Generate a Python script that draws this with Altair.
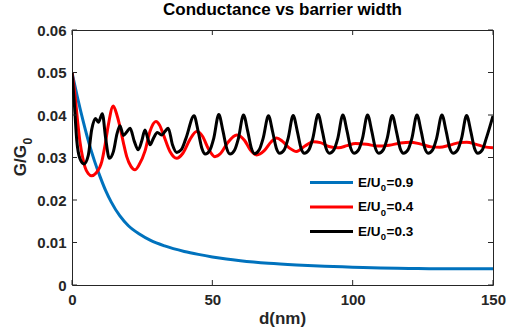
import altair as alt
import pandas as pd

# Conductance G/G0 versus barrier width d for three incident energies
d_09 = [0, 2, 4, 6, 8, 10, 12, 14, 17, 20, 24, 28, 33, 40, 45, 50, 55, 60,
        70, 80, 90, 100, 110, 120, 130, 140, 150]
g_09 = [0.0500, 0.0440, 0.0385, 0.0335, 0.0292, 0.0255, 0.0222, 0.0195, 0.0163,
        0.0140, 0.0120, 0.0105, 0.0092, 0.0079, 0.0072, 0.0066, 0.0061, 0.0057,
        0.0051, 0.0047, 0.0044, 0.0042, 0.0040, 0.0039, 0.0038, 0.0038, 0.0038]

d_04 = [0, 1.0, 2.0, 2.9, 3.8, 4.6, 5.8, 7.0, 8.5, 10.6, 11.8, 12.9, 14.7, 16.0,
        17.1, 18.3, 19.5, 21.0, 22.4, 24.0, 26.0, 27.8, 29.9, 31.3, 32.5, 34.9,
        37.3, 39.5, 42.0, 44.4, 46.5, 48.5, 50.9, 53.0, 55.5, 58.7, 61.5, 63.5,
        65.8, 68.5, 71.0, 72.9, 75.0, 77.5, 80.0, 83.0, 86.0, 88.5, 91.5, 95.0,
        98.0, 101.0, 105.0, 109.0, 113.0, 117.0, 120.5, 124.0, 128.0, 131.0,
        134.5, 138.0, 140.6, 144.0, 147.0, 150.0]
g_04 = [0.0500, 0.0450, 0.0385, 0.0334, 0.0300, 0.0278, 0.0262, 0.0257, 0.0263,
        0.0290, 0.0330, 0.0375, 0.0421, 0.0400, 0.0372, 0.0335, 0.0302, 0.0279,
        0.0271, 0.0284, 0.0315, 0.0362, 0.0385, 0.0375, 0.0355, 0.0314, 0.0298,
        0.0310, 0.0342, 0.0361, 0.0350, 0.0322, 0.0302, 0.0310, 0.0335, 0.0353,
        0.0340, 0.0318, 0.0306, 0.0316, 0.0337, 0.0346, 0.0338, 0.0322, 0.0314,
        0.0327, 0.0337, 0.0335, 0.0326, 0.0323, 0.0328, 0.0333, 0.0331, 0.0327,
        0.0329, 0.0334, 0.0336, 0.0332, 0.0325, 0.0324, 0.0329, 0.0335, 0.0336,
        0.0331, 0.0325, 0.0323]

d_03 = [0, 0.8, 1.7, 2.8, 4.3, 5.8, 7.0, 8.4, 9.4, 10.8, 12.0, 13.3, 14.8, 16.0,
        17.1, 18.3, 19.5, 20.7, 22.2, 23.6, 24.9, 26.0, 27.0, 27.8, 29.0, 30.4,
        31.9, 33.2, 34.3, 35.8, 37.3, 38.9, 40.6,
        43.5, 45.0, 46.3, 47.5, 49.1, 50.5,
        52.3, 53.8, 55.1, 56.3, 57.9, 59.3,
        61.1, 62.6, 63.9, 65.1, 66.7, 68.1,
        70.0, 71.5, 72.8, 74.0, 75.6, 77.0,
        78.8, 80.3, 81.6, 82.8, 84.4, 85.8,
        87.7, 89.2, 90.5, 91.7, 93.3, 94.7,
        96.5, 98.0, 99.3, 100.5, 102.1, 103.5,
        105.3, 106.8, 108.1, 109.3, 110.9, 112.3,
        114.1, 115.6, 116.9, 118.1, 119.7, 121.1,
        122.9, 124.4, 125.7, 126.9, 128.5, 129.9,
        131.8, 133.3, 134.6, 135.8, 137.4, 138.8,
        140.6, 142.1, 143.4, 144.6, 146.2, 147.6,
        150.0]
g_03 = [0.0500, 0.0430, 0.0340, 0.0298, 0.0285, 0.0305, 0.0365, 0.0392, 0.0383,
        0.0403, 0.0345, 0.0298, 0.0315, 0.0355, 0.0375, 0.0352, 0.0360, 0.0369,
        0.0338, 0.0318, 0.0340, 0.0365, 0.0345, 0.0330, 0.0345, 0.0359, 0.0353,
        0.0362, 0.0369, 0.0330, 0.0312, 0.0318, 0.0345,
        0.0398, 0.0360, 0.0321, 0.0308, 0.0317, 0.0345,
        0.0401, 0.0362, 0.0322, 0.0308, 0.0317, 0.0345,
        0.0400, 0.0362, 0.0322, 0.0309, 0.0318, 0.0345,
        0.0398, 0.0360, 0.0322, 0.0310, 0.0318, 0.0345,
        0.0399, 0.0361, 0.0322, 0.0310, 0.0318, 0.0345,
        0.0401, 0.0362, 0.0322, 0.0310, 0.0318, 0.0345,
        0.0400, 0.0362, 0.0322, 0.0310, 0.0318, 0.0345,
        0.0400, 0.0362, 0.0322, 0.0310, 0.0318, 0.0345,
        0.0399, 0.0361, 0.0322, 0.0310, 0.0318, 0.0345,
        0.0400, 0.0362, 0.0322, 0.0310, 0.0318, 0.0345,
        0.0400, 0.0362, 0.0322, 0.0310, 0.0318, 0.0345,
        0.0399, 0.0361, 0.0322, 0.0310, 0.0318, 0.0345,
        0.0398]

energies = ["0.9", "0.4", "0.3"]
colors = ["#0072BD", "#FF0000", "#000000"]
x_ticks = [0, 50, 100, 150]
y_ticks = [0, 0.01, 0.02, 0.03, 0.04, 0.05, 0.06]

title_text = "Conductance vs barrier width"
x_title = "d(nm)"
y_title_main = "G/G"
y_title_sub = "0"

W, H = 421, 255
FONT = "Liberation Sans"
INK = "#262626"

xs = alt.Scale(domain=[0, 150], nice=False, zero=False)
ys = alt.Scale(domain=[0, 0.06], nice=False)
x_axis = alt.Axis(
    values=x_ticks, ticks=False, domain=False, grid=False, title=None,
    labelFont=FONT, labelFontSize=15, labelFontWeight="bold",
    labelColor=INK, labelPadding=7, labelFlush=False)
y_axis = alt.Axis(
    values=y_ticks, ticks=False, domain=False, grid=False, title=None,
    labelFont=FONT, labelFontSize=15, labelFontWeight="bold",
    labelColor=INK, labelPadding=6, labelFlush=False,
    labelExpr="datum.value == 0 ? '0' : format(datum.value, '.2f')")

frames = []
for e, dd, gg in [("0.9", d_09, g_09), ("0.4", d_04, g_04), ("0.3", d_03, g_03)]:
    frames.append(pd.DataFrame({"d": dd, "G": gg, "E": e, "order": range(len(dd))}))
curves = pd.concat(frames, ignore_index=True)

layers = []
for e, c in zip(energies, colors):
    layers.append(
        alt.Chart(curves[curves["E"] == e])
        .mark_line(color=c, strokeWidth=3, interpolate="monotone", clip=True,
                   strokeJoin="round")
        .encode(
            x=alt.X("d:Q", scale=xs, axis=x_axis),
            y=alt.Y("G:Q", scale=ys, axis=y_axis),
            order="order:Q",
        )
    )

# inward tick marks on all four sides of the box
xt = pd.DataFrame({"v": x_ticks})
yt = pd.DataFrame({"v": y_ticks})
tick_len = 5
for y0, y1 in [(H, H - tick_len), (0, tick_len)]:
    layers.append(alt.Chart(xt).mark_rule(color=INK, strokeWidth=1).encode(
        x=alt.X("v:Q", scale=xs, axis=x_axis), y=alt.value(y0), y2=alt.value(y1)))
for x0, x1 in [(0, tick_len), (W, W - tick_len)]:
    layers.append(alt.Chart(yt).mark_rule(color=INK, strokeWidth=1).encode(
        y=alt.Y("v:Q", scale=ys, axis=y_axis), x=alt.value(x0), x2=alt.value(x1)))

# title and axis titles
layers.append(alt.Chart(pd.DataFrame({"t": [title_text]})).mark_text(
    font=FONT, fontSize=17, fontWeight="bold", color="black", baseline="middle"
).encode(text="t:N", x=alt.value(W / 2), y=alt.value(-20)))
layers.append(alt.Chart(pd.DataFrame({"t": [x_title]})).mark_text(
    font=FONT, fontSize=17, fontWeight="bold", color=INK, baseline="middle"
).encode(text="t:N", x=alt.value(W / 2), y=alt.value(H + 34)))

ylab_x = -51
ylab_split = 115
layers.append(alt.Chart(pd.DataFrame({"t": [y_title_main]})).mark_text(
    font=FONT, fontSize=17, fontWeight="bold", color=INK, baseline="middle",
    align="right", angle=270
).encode(text="t:N", x=alt.value(ylab_x), y=alt.value(ylab_split)))
layers.append(alt.Chart(pd.DataFrame({"t": [y_title_sub]})).mark_text(
    font=FONT, fontSize=12, fontWeight="bold", color=INK, baseline="middle",
    align="left", angle=270
).encode(text="t:N", x=alt.value(ylab_x + 7), y=alt.value(ylab_split - 0.5)))

# legend entries
leg_x0, leg_x1 = 238, 281
row_y = [152.5, 177, 201.5]
for e, c, ry in zip(energies, colors, row_y):
    layers.append(alt.Chart(pd.DataFrame({"t": [e]})).mark_rule(
        color=c, strokeWidth=3).encode(
        x=alt.value(leg_x0), x2=alt.value(leg_x1), y=alt.value(ry)))
    layers.append(alt.Chart(pd.DataFrame({"t": ["E/U"]})).mark_text(
        font=FONT, fontSize=13.5, fontWeight="bold", color="black",
        baseline="middle", align="right"
    ).encode(text="t:N", x=alt.value(308.5), y=alt.value(ry)))
    layers.append(alt.Chart(pd.DataFrame({"t": ["0"]})).mark_text(
        font=FONT, fontSize=9.5, fontWeight="bold", color="black",
        baseline="middle", align="left"
    ).encode(text="t:N", x=alt.value(308.8), y=alt.value(ry + 5.5)))
    layers.append(alt.Chart(pd.DataFrame({"t": ["=" + e]})).mark_text(
        font=FONT, fontSize=13.5, fontWeight="bold", color="black",
        baseline="middle", align="left"
    ).encode(text="t:N", x=alt.value(314.5), y=alt.value(ry)))

chart = alt.layer(*layers).properties(
    width=W, height=H,
    autosize=alt.AutoSizeParams(type="none"),
    padding={"left": 72, "top": 30, "right": 17, "bottom": 46},
    background="white",
).configure_view(stroke=INK, strokeWidth=1)

chart.save("out.html", embed_options={"renderer": "svg", "actions": False})
